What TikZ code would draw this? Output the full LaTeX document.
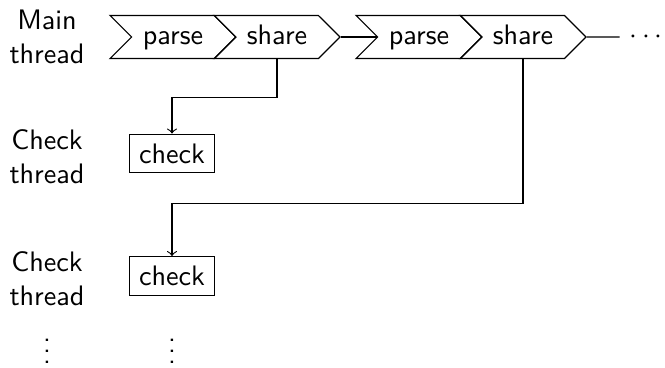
\documentclass[tikz,border=0pt]{standalone}
\usetikzlibrary{shapes.symbols}

\begin{document}
\begin{tikzpicture}[
  x=0.355pt, y=-0.355pt,
  font=\sffamily,
  stage/.style={draw, signal, signal to=east, signal from=west,
                minimum height=15.3pt, minimum width=44.7pt, inner sep=1pt,
                text height=1.5ex, text depth=.25ex},
  task/.style={draw, rectangle},
  lane/.style={align=center},
  hand/.style={->},
]
\useasboundingbox (0,0) rectangle (665,367);

% lane labels
\node[lane] (mainlbl) at (47,37) {Main\\thread};
\node[lane] (chklblA) at (47,157) {Check\\thread};
\node[lane] (chklblB) at (47,279) {Check\\thread};

% main thread stages
\node[stage] (parseA) at (173,37) {parse};
\node[stage] (shareA) at (277,37) {share};
\node[stage] (parseB) at (419,37) {parse};
\node[stage] (shareB) at (523,37) {share};
\node (more) at (646,37) {$\cdots$};

% check threads
\node[task] (checkA) at (172,153.5) {check};
\node[task] (checkB) at (172,276) {check};

\node (vdotsL) at (47,343) {$\vdots$};
\node (vdotsR) at (172,343) {$\vdots$};

\draw (shareA) -- (parseB);
\draw (shareB) -- (more);
\draw[hand] (shareA.south) -- ++(0,38) -| (checkA.north);
\draw[hand] (shareB.south) -- ++(0,144) -| (checkB.north);
\end{tikzpicture}
\end{document}
